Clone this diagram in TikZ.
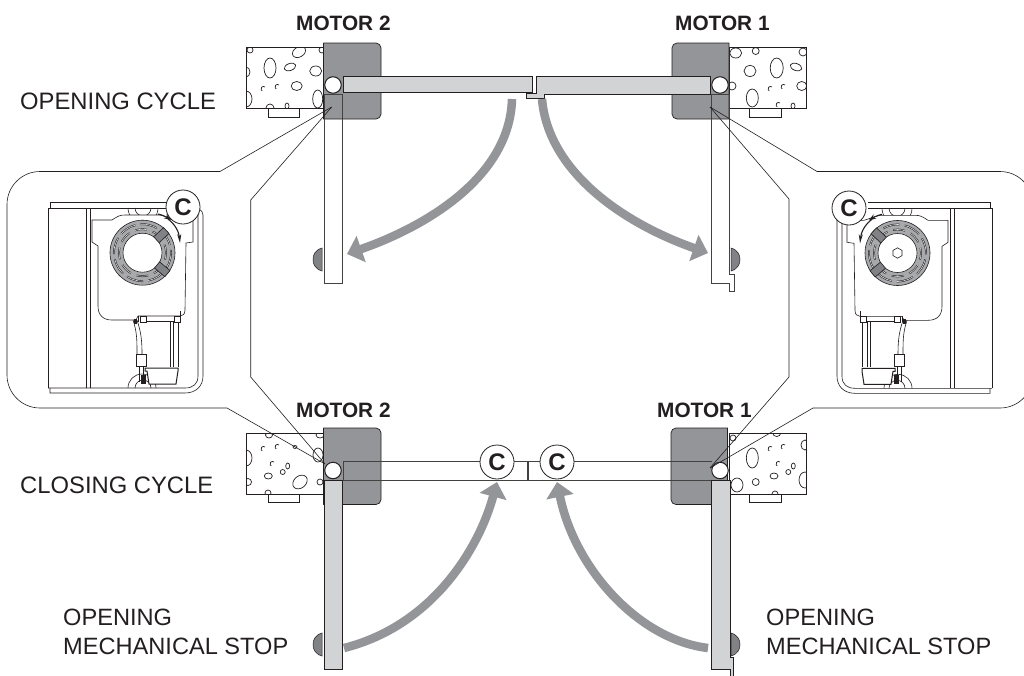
\documentclass[tikz,border=0pt]{standalone}
\usepackage{fontspec}
\setmainfont{Liberation Sans}
\usetikzlibrary{arrows.meta}
\definecolor{ink}{HTML}{231F20}
\definecolor{motorgray}{HTML}{939598}
\definecolor{leafgray}{HTML}{D1D3D4}
\definecolor{stopgray}{HTML}{808285}
\definecolor{wheelgray}{HTML}{A7A9AC}
\tikzset{
  wallbox/.style={draw=ink,line width=0.9pt},
  rock/.style={draw=ink,line width=0.7pt},
  plate/.style={draw=ink,line width=0.8pt,fill=white},
  motorbox/.style={draw=ink,line width=0.7pt,fill=motorgray,line join=round},
  leaf/.style={draw=ink,line width=0.9pt,line join=miter},
  thinleaf/.style={draw=ink!85,line width=0.7pt},
  hinge/.style={circle,draw=ink,line width=1pt,fill=white,minimum size=16.5pt,inner sep=0pt},
  stopper/.style={draw=ink,line width=0.5pt,fill=stopgray},
  leader/.style={draw=ink,line width=0.6pt},
  swing/.style={draw=motorgray,line width=8.5pt,-{Triangle[length=15pt,width=27pt]}},
  cmark/.style={circle,draw=ink,line width=0.8pt,fill=white,minimum size=34pt,inner sep=0pt,font=\fontsize{24}{24}\selectfont\bfseries,text=ink},
  motorlabel/.style={anchor=base west,inner sep=0pt,font=\fontsize{20.8}{22}\selectfont\bfseries,text=ink},
  cyclelabel/.style={anchor=base west,inner sep=0pt,font=\fontsize{23.8}{26}\selectfont,text=ink},
  stoplabel/.style={anchor=north west,inner sep=0pt,align=left,font=\fontsize{23.6}{29}\selectfont,text=ink},
  mech/.style={draw=ink,line width=0.6pt},
  mechthin/.style={draw=ink,line width=0.45pt},
}
\newcommand{\rk}[5]{\draw[rock] (#1,#2) ellipse[x radius=#3,y radius=#4,rotate=#5];}
\newcommand{\crk}[2]{\draw[rock] (#1+2,#2-2) arc[start angle=-50,end angle=-240,radius=2.4];}
\newcommand{\mechanism}{%
  % frame
  \draw[mech] (50,208) -- (50,202) -- (172,202);
  \draw[mech] (48,208) -- (172,208);
  \draw[mech] (48,208) -- (48,388);
  \draw[mech] (86,208) -- (86,388);
  \draw[mech] (90,208) -- (90,388);
  \draw[mech] (48,388) -- (185,388) .. controls (193,388) and (198,384) .. (198,376) -- (198,212);
  \draw[mech] (50,388) -- (50,393) -- (185,393) .. controls (196,393) and (203,386) .. (203,376) -- (203,215) .. controls (203,213) and (202,211) .. (199,209);
  % arcs behind body
  \draw[mech] (128,208) arc[start angle=180,end angle=0,radius=15];
  \draw[mech] (135,208) arc[start angle=180,end angle=0,radius=8];
  \draw[mech] (128,388) arc[start angle=180,end angle=360,radius=14];
  \draw[mech] (135,388) arc[start angle=180,end angle=360,radius=8];
  % body
  \draw[mech,fill=white] (92,220) -- (112,220) .. controls (118,216) and (120,215) .. (125,215) -- (160,215) .. controls (168,217) and (172,219) .. (176,220) -- (193,220) -- (193,242) -- (186,243) -- (185,310) .. controls (185,314) and (183,316) .. (180,316) -- (138,316) -- (136,320) -- (112,320) .. controls (103,320) and (98,315) .. (98,306) -- (98,246) -- (92,242) -- cycle;
  % wheel
  \draw[mech,fill=wheelgray] (142.5,252.7) circle[radius=32.5];
  \draw[ink,line width=1.7pt,dash pattern=on 17pt off 5pt] (142.5,252.7) circle[radius=28.5];
  \draw[wheelgray!35,line width=0.6pt,dash pattern=on 17pt off 5pt] (142.5,252.7) circle[radius=28.5];
  \draw[ink,line width=1.7pt,dash pattern=on 12pt off 6pt,dash phase=5pt] (142.5,252.7) circle[radius=23.5];
  \draw[wheelgray!35,line width=0.6pt,dash pattern=on 12pt off 6pt,dash phase=5pt] (142.5,252.7) circle[radius=23.5];
  \draw[mech,fill=white] (142.5,252.7) circle[radius=19.5];
  \foreach \ang in {-40,43}{
    \draw[mech,fill=stopgray,rotate around={\ang:(142.5,252.7)}] (161.5,248.7) rectangle (175,256.7);
  }
  % lower assembly
  \draw[mech] (138,316) -- (138,322);
  \draw[mech] (180,316) -- (180,311);
  \draw[mech] (140,316) rectangle (146,322);
  \draw[mech] (174,316) rectangle (180,322);
  \draw[mech] (146,321) -- (174,321);
  \draw[mechthin] (170,322) -- (170,367);
  \draw[mechthin] (173,322) -- (173,367);
  \draw[mechthin] (178,322) -- (178,367);
  \draw[mech,line width=1pt,fill=white] (145,368) -- (178,368) -- (178,371) -- (176,384) -- (149,384) -- (147,371) -- (145,371) -- cycle;
  \draw[mech] (133,320) .. controls (137,332) and (137,340) .. (137,354);
  \draw[mech] (137,320) .. controls (141,332) and (142,340) .. (142,354);
  \draw[mech,fill=white] (136,354) rectangle (146,366);
  \draw[mech] (139,366) -- (139,382);
  \draw[mech] (143,366) -- (143,375);
  \fill[ink] (141,375) rectangle (146,384);
  \fill[ink] (134,319) rectangle (137,324);
  % rotation arrows
  \draw[ink,line width=1.1pt,-{Stealth[length=7pt,width=5pt]}] (158,214) .. controls (163,215) and (168,218) .. (171,220);
  \draw[ink,line width=1.1pt,-{Stealth[length=9pt,width=4pt]}] (168,219) .. controls (175,224) and (179,232) .. (180,243);
}
\begin{document}
\begin{tikzpicture}[x=1pt,y=-1pt]
\clip (0,0) rectangle (1024,675);
\fill[white] (0,0) rectangle (1024,675);

% ---------- walls
\begin{scope}
  \clip (246,47) rectangle (323,108);
  \rk{270}{68}{6}{10}{0}\rk{290}{67}{6}{3.5}{20}\rk{315.7}{71}{6}{5}{0}\rk{299}{52}{7}{5}{30}
  \rk{296.7}{86}{5.5}{4.5}{0}\rk{317.7}{99}{5}{9}{0}\rk{246}{99}{6}{8}{0}\rk{250}{50}{3}{3}{0}
  \rk{246}{72}{4}{5}{0}\rk{322}{50}{3}{3}{0}\rk{287}{106}{2}{3}{0}\rk{270}{108}{4}{4}{0}
  \crk{263}{89}\crk{277}{87}
\end{scope}
\begin{scope}
  \clip (729,47) rectangle (806,108);
  \rk{735.7}{53}{6}{5}{0}\rk{755.7}{51}{3.5}{3.5}{0}\rk{750}{71}{6}{5.5}{0}\rk{776.7}{68}{6.5}{10}{0}
  \rk{796}{67}{6}{3.5}{-20}\rk{801.7}{86}{5}{4.5}{0}\rk{803}{52}{4}{4}{0}\rk{752.3}{98}{6}{9}{0}
  \rk{732}{86}{4}{4}{0}\rk{793}{106}{2}{3}{0}\crk{778}{105}
  \crk{770}{89}\crk{783}{87}
\end{scope}
\begin{scope}
  \clip (246,433) rectangle (323,494);
  \rk{269}{435}{3.5}{3}{0}\rk{246}{458}{6}{8}{0}\rk{248}{482}{3.5}{3.5}{0}\rk{268.3}{476}{4}{3}{0}
  \rk{282.7}{472}{2.5}{2.5}{0}\rk{287.7}{466}{2}{3}{0}\rk{300}{482}{8}{6}{40}\rk{268}{493}{3}{3}{0}
  \rk{318}{455}{5}{7}{0}\rk{320}{482}{3}{3}{0}\rk{320}{435}{4}{3}{0}\rk{295}{447}{2}{1.5}{0}
  \crk{263}{449}\crk{277}{447}\crk{272}{464}
\end{scope}
\begin{scope}
  \clip (729,433) rectangle (806,494);
  \rk{752.3}{458}{6}{10}{0}\rk{755.7}{482}{3.5}{3.5}{0}\rk{774}{476}{4}{3}{0}\rk{788.3}{472}{2.5}{2.5}{0}
  \rk{793.3}{466}{2}{3}{0}\rk{805}{445}{4}{5}{0}\rk{805}{480}{6}{8}{0}\rk{737}{485}{6}{7}{0}
  \rk{776.7}{433}{4}{3.5}{0}\rk{775}{494}{3}{3}{0}\rk{733}{438}{3}{3}{0}
  \crk{770}{449}\crk{783}{447}\crk{778}{464}
\end{scope}
\foreach \wx/\wy in {246/47,729/47,246/433,729/433}{
  \draw[wallbox] (\wx,\wy) rectangle ++(77,61);
}
\draw[plate] (268,108) rectangle (299.5,117);
\draw[plate] (749.5,108) rectangle (781.5,117);
\draw[plate] (268,494) rectangle (299.5,502.5);
\draw[plate] (749.5,494) rectangle (781.5,502.5);

% ---------- motors
\draw[motorbox] (323.5,43) [rounded corners=5pt] -- (381,43) -- (381,119) [sharp corners] -- (323.5,119) -- cycle;
\draw[motorbox] (729,43) [rounded corners=5pt] -- (672,43) -- (672,119) [sharp corners] -- (729,119) -- cycle;
\draw[motorbox] (323.5,428) [rounded corners=5pt] -- (381,428) -- (381,504.5) [sharp corners] -- (323.5,504.5) -- cycle;
\draw[motorbox] (727.5,428) [rounded corners=5pt] -- (671,428) -- (671,504.5) [sharp corners] -- (727.5,504.5) -- cycle;

% ---------- top leaves
\draw[leaf,fill=leafgray] (343,76) rectangle (532.7,92);
\draw[leaf,fill=leafgray] (536,76) -- (710,76) -- (710,94) -- (544.5,94) -- (544.5,98) -- (526.7,98) -- (526.7,93) -- (536,93) -- cycle;
\draw[thinleaf] (324,94) rectangle (342,283.5);
\draw[thinleaf] (711,94) -- (711,283.5) -- (729.5,283.5) -- (729.5,291) -- (734.5,291) -- (734.5,274) -- (729.5,274) -- (729.5,94) -- cycle;

% ---------- bottom leaves
\draw[thinleaf] (343,480) -- (343,461.7) -- (527,461.7) -- (527,480) -- cycle;
\draw[thinleaf] (712,461.7) -- (528.8,461.7) -- (528.8,480) -- (712,480);
\draw[leaf,fill=leafgray] (324,480) rectangle (342,669);
\draw[leaf,fill=leafgray] (711,480) -- (711,669) -- (730,669) -- (730,677) -- (733.5,677) -- (733.5,657) -- (730,657) -- (730,480) -- cycle;

% ---------- stoppers
\foreach \sy in {248,633}{
  \draw[stopper] (322,\sy) .. controls (315,\sy+2) and (313,\sy+7) .. (313,\sy+11.5) .. controls (313,\sy+16) and (315,\sy+21) .. (322,\sy+23) -- cycle;
  \draw[stopper] (731,\sy) .. controls (738,\sy+2) and (740,\sy+7) .. (740,\sy+11.5) .. controls (740,\sy+16) and (738,\sy+21) .. (731,\sy+23) -- cycle;
}

% ---------- hinges
\node[hinge] (hingeTL) at (333,85) {};
\node[hinge] (hingeTR) at (720,85) {};
\node[hinge] (hingeBL) at (333,470.5) {};
\node[hinge] (hingeBR) at (720,470.5) {};

% ---------- callout outlines
\coordinate (tipTL) at (331.7,107);
\coordinate (tipTR) at (710,107);
\coordinate (tipBL) at (325,464);
\coordinate (tipBR) at (710,468);
\coordinate (elbowA) at (250.7,200);
\coordinate (elbowB) at (250.7,377);
\coordinate (elbowC) at (789,199);
\coordinate (elbowD) at (789,377);
\draw[leader] (tipTL) -- (220,171.5) -- (40,171.5) arc[start angle=270,end angle=180,radius=33] -- (7,375) arc[start angle=180,end angle=90,radius=33] -- (227,408) -- (tipBL);
\draw[leader] (tipTL) -- (elbowA) -- (elbowB) -- (tipBL);
\draw[leader] (tipTR) -- (817,171.5) -- (1000,171.5) arc[start angle=270,end angle=360,radius=33] -- (1033,375) arc[start angle=0,end angle=90,radius=33] -- (813,408) -- (tipBR);
\draw[leader] (tipTR) -- (elbowC) -- (elbowD) -- (tipBR);

% ---------- mechanisms
\mechanism
\begin{scope}[shift={(1040,0.3)},xscale=-1]
  \mechanism
  \draw[mech] (142.5,247.5) -- (147,250.1) -- (147,255.3) -- (142.5,257.9) -- (138,255.3) -- (138,250.1) -- cycle;
\end{scope}
\node[cmark] (cPanelL) at (183,207) {C};
\node[cmark] (cPanelR) at (849,208) {C};

% ---------- C marks on the closed leaves
\node[cmark] (cLeafL) at (497,462) {C};
\node[cmark] (cLeafR) at (557,462) {C};

% ---------- swing arrows
\coordinate (swA0) at (512,99);
\coordinate (swA1) at (347,254);
\coordinate (swB0) at (542,99);
\coordinate (swB1) at (708,253);
\coordinate (swC0) at (344,648);
\coordinate (swC1) at (497,482);
\coordinate (swD0) at (708,648);
\coordinate (swD1) at (557,482);
\draw[swing] (swA0) .. controls (510,175) and (430,225) .. (swA1);
\draw[swing] (swB0) .. controls (548,170) and (620,222) .. (swB1);
\draw[swing] (swC0) .. controls (435,625) and (480,545) .. (swC1);
\draw[swing] (swD0) .. controls (640,640) and (575,570) .. (swD1);

% ---------- labels
\node[motorlabel] (m2top) at (296,30) {MOTOR 2};
\node[motorlabel] (m1top) at (675,30) {MOTOR 1};
\node[motorlabel] (m2bot) at (296,417) {MOTOR 2};
\node[motorlabel] (m1bot) at (657,417) {MOTOR 1};
\node[cyclelabel] (opencyc) at (20,109) {OPENING CYCLE};
\node[cyclelabel] (closecyc) at (20,493) {CLOSING CYCLE};
\node[stoplabel] (stopL) at (63,609) {OPENING\\MECHANICAL STOP};
\node[stoplabel] (stopR) at (766,609) {OPENING\\MECHANICAL STOP};
\end{tikzpicture}
\end{document}
